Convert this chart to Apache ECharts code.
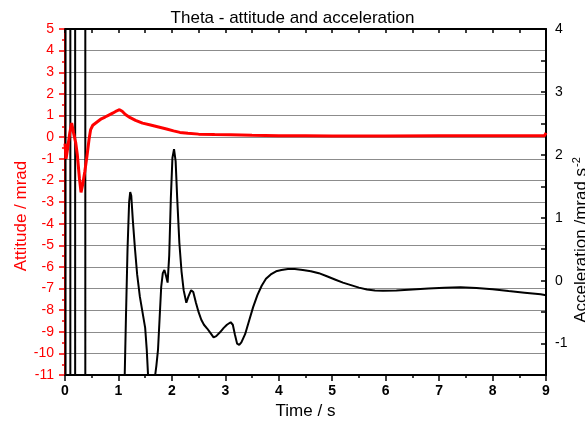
<!DOCTYPE html>
<html>
<head>
<meta charset="utf-8">
<script src="https://cdn.jsdelivr.net/npm/echarts@6/dist/echarts.min.js"></script>
<style>
html,body{margin:0;padding:0;background:#fff;}
#chart{width:585px;height:425px;}
</style>
</head>
<body>
<div id="chart"></div>
<script>
// ---- Data ----
const chartTitle = 'Theta - attitude and acceleration';
const xAxisTitle = 'Time / s';
const leftAxisTitle = 'Attitude / mrad';
const rightAxisTitle = 'Acceleration /mrad s';
const rightAxisTitleSup = '-2';

// Attitude (left axis, mrad)
const attitudeTime = [0.00,0.02,0.05,0.09,0.125,0.16,0.20,0.23,0.27,0.30,0.33,0.37,0.41,0.45,0.48,0.52,0.60,0.68,0.75,0.82,0.90,0.97,1.02,1.07,1.13,1.22,1.32,1.45,1.60,1.75,1.90,2.03,2.15,2.30,2.50,2.80,3.10,3.50,4.00,4.50,5.00,6.00,7.00,8.00,8.97,9.00];
const attitudeValue = [-0.3,-1.0,-0.5,0.2,0.65,0.2,-0.25,-0.8,-1.9,-2.55,-2.2,-1.6,-0.9,-0.1,0.35,0.55,0.7,0.85,0.93,1.02,1.12,1.22,1.27,1.2,1.05,0.9,0.78,0.65,0.56,0.47,0.38,0.29,0.22,0.18,0.14,0.12,0.11,0.09,0.07,0.06,0.05,0.05,0.06,0.06,0.06,0.2];

// Acceleration (right axis, mrad s^-2); early values run far off scale
const accelTime = [0.00,0.02,0.02,0.10,0.10,0.19,0.19,0.38,0.38,1.11,
  1.115,1.14,1.17,1.20,1.22,1.24,1.27,1.31,1.35,1.40,1.45,1.50,1.53,1.56,1.60,1.65,1.68,1.71,1.74,1.77,1.80,1.83,1.86,1.89,1.92,1.95,1.98,2.01,2.04,2.07,2.10,2.14,2.18,2.22,2.27,2.31,2.36,2.40,2.45,2.50,2.55,2.60,2.66,2.72,2.78,2.83,2.90,2.97,3.03,3.10,3.14,3.18,3.22,3.26,3.30,3.37,3.45,3.52,3.60,3.68,3.76,3.85,3.95,4.05,4.17,4.30,4.45,4.60,4.75,4.90,5.05,5.20,5.35,5.50,5.65,5.80,5.95,6.20,6.50,6.80,7.10,7.40,7.70,8.00,8.30,8.60,8.90,9.00];
const accelValue = [-20000,-20000,20000,20000,-20000,-20000,20000,20000,-20000,-20000,
  -1.6,-0.6,0.5,1.25,1.41,1.35,0.95,0.5,0.1,-0.25,-0.5,-0.75,-1.1,-1.6,-2.5,-2.5,-1.55,-1.35,-1.1,-0.6,-0.1,0.12,0.17,0.08,-0.03,0.4,1.3,1.95,2.09,1.9,1.3,0.6,0.15,-0.15,-0.35,-0.25,-0.15,-0.18,-0.35,-0.5,-0.62,-0.7,-0.76,-0.83,-0.9,-0.88,-0.82,-0.75,-0.7,-0.66,-0.7,-0.86,-1.0,-1.02,-0.98,-0.85,-0.62,-0.42,-0.23,-0.08,0.03,0.1,0.15,0.17,0.185,0.185,0.17,0.15,0.12,0.07,0.02,-0.03,-0.07,-0.11,-0.14,-0.155,-0.16,-0.155,-0.14,-0.125,-0.11,-0.105,-0.115,-0.135,-0.165,-0.19,-0.215,-0.23];

const FONT = '"Liberation Sans", Arial, sans-serif';
const pairs = (xs, ys) => xs.map((x, i) => [x, ys[i]]);
const isInt = v => Math.abs(v - Math.round(v)) < 1e-9;

const chart = echarts.init(document.getElementById('chart'), null, {renderer: 'canvas'});
chart.setOption({
  animation: false,
  backgroundColor: '#ffffff',
  title: {
    text: chartTitle, left: 'center', top: 5,
    textStyle: {fontFamily: FONT, fontSize: 17, fontWeight: 'normal', color: '#000'}
  },
  grid: {left: 65, right: 39, top: 29, bottom: 47, containLabel: false},
  xAxis: [{
    type: 'value', min: 0, max: 9, interval: 1, position: 'bottom',
    name: xAxisTitle, nameLocation: 'middle', nameGap: 26,
    nameTextStyle: {fontFamily: FONT, fontSize: 17, color: '#000'},
    axisLine: {show: true, onZero: false, lineStyle: {color: '#000', width: 2}},
    axisTick: {show: true, inside: false, length: 6, lineStyle: {color: '#000', width: 1.5}},
    minorTick: {show: true, splitNumber: 2, length: 3, lineStyle: {color: '#000', width: 1.5}},
    axisLabel: {fontFamily: FONT, fontSize: 14, fontWeight: 'bold', color: '#000', margin: 9},
    splitLine: {show: false}
  }, {
    type: 'value', min: 0, max: 9, interval: 0.5, position: 'top',
    axisLine: {show: true, onZero: false, lineStyle: {color: '#000', width: 2}},
    axisTick: {show: true, inside: true, length: 4, lineStyle: {color: '#000', width: 1.5}},
    axisLabel: {show: false},
    splitLine: {show: false}
  }],
  yAxis: [{
    type: 'value', min: -11, max: 5, interval: 1, position: 'left',
    axisLine: {show: true, onZero: false, lineStyle: {color: '#ff0000', width: 2}},
    axisTick: {show: true, inside: false, length: 6, lineStyle: {color: '#ff0000', width: 1.5}},
    minorTick: {show: true, splitNumber: 2, length: 3, lineStyle: {color: '#ff0000', width: 1.5}},
    axisLabel: {fontFamily: FONT, fontSize: 14, color: '#ff0000', margin: 11},
    splitLine: {show: true, lineStyle: {color: '#8c8c8c', width: 1}}
  }, {
    type: 'value', min: -1.5, max: 4, interval: 0.5, position: 'right',
    axisLine: {show: true, onZero: false, lineStyle: {color: '#000', width: 2}},
    axisTick: {show: true, inside: true, length: 5, lineStyle: {color: '#000', width: 1.5}},
    axisLabel: {fontFamily: FONT, fontSize: 14, color: '#000', margin: 9,
      formatter: v => isInt(v) ? String(Math.round(v)) : ''},
    splitLine: {show: false}
  }],
  graphic: [{
    type: 'text', x: 21, y: 216, rotation: Math.PI / 2,
    style: {text: leftAxisTitle, fill: '#ff0000', font: '17px ' + FONT, align: 'center', verticalAlign: 'middle'}
  }, {
    type: 'text', x: 581, y: 240, rotation: Math.PI / 2,
    style: {
      text: rightAxisTitle + '{sup|' + rightAxisTitleSup + '}',
      fill: '#000', font: '17px ' + FONT, align: 'center', verticalAlign: 'middle',
      rich: {sup: {fontSize: 11, fontFamily: FONT, fill: '#000', verticalAlign: 'top', padding: [0, 0, 8, 1]}}
    }
  }],
  series: [{
    name: 'Attitude', type: 'line', xAxisIndex: 0, yAxisIndex: 0,
    data: pairs(attitudeTime, attitudeValue),
    showSymbol: false, clip: true,
    lineStyle: {color: '#ff0000', width: 3}, z: 3
  }, {
    name: 'Acceleration', type: 'line', xAxisIndex: 0, yAxisIndex: 1,
    data: pairs(accelTime, accelValue),
    showSymbol: false, clip: true,
    lineStyle: {color: '#000', width: 2}, z: 2
  }]
});
</script>
</body>
</html>
